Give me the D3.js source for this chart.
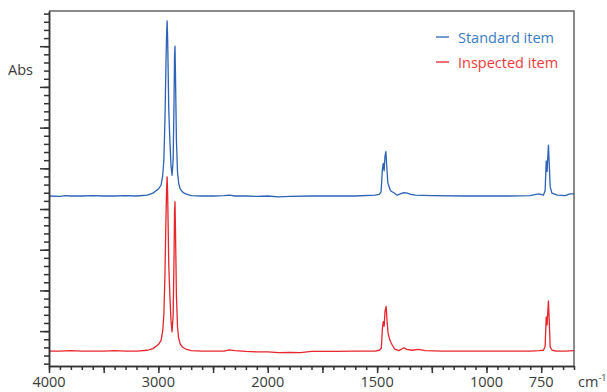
<!DOCTYPE html>
<html>
<head>
<meta charset="utf-8">
<script src="https://cdn.jsdelivr.net/npm/d3@7"></script>
<style>
  html, body { margin: 0; padding: 0; background: #fff; }
  svg { display: block; font-family: 'Open Sans', 'Noto Sans', sans-serif; }
</style>
</head>
<body>
<svg id="chart" width="607" height="392"></svg>
<script>
// wavenumber (cm-1), absorbance
const standardItem = [
  [4000, 0.432], [3900, 0.431], [3850, 0.433], [3800, 0.432], [3700, 0.432], [3600, 0.433], [3500, 0.432],
  [3400, 0.432], [3300, 0.433], [3200, 0.432], [3100, 0.434], [3050, 0.439], [3000, 0.449], [2975, 0.459],
  [2960, 0.483], [2950, 0.520], [2940, 0.618], [2930, 0.766], [2925, 0.827], [2920, 0.862], [2915, 0.815],
  [2905, 0.643], [2895, 0.569], [2885, 0.508], [2875, 0.483], [2865, 0.520], [2858, 0.643], [2852, 0.778],
  [2848, 0.800], [2843, 0.717], [2835, 0.569], [2825, 0.491], [2815, 0.464], [2800, 0.449], [2780, 0.442],
  [2750, 0.437], [2700, 0.433], [2600, 0.432], [2500, 0.432], [2400, 0.433], [2350, 0.434], [2300, 0.432],
  [2200, 0.432], [2100, 0.431], [2000, 0.432], [1950, 0.430], [1900, 0.431], [1800, 0.432], [1700, 0.432],
  [1600, 0.432], [1510, 0.434], [1490, 0.436], [1482, 0.442], [1476, 0.496], [1472, 0.512], [1468, 0.494],
  [1464, 0.530], [1460, 0.541], [1456, 0.505], [1451, 0.464], [1439, 0.445], [1424, 0.440], [1408, 0.434],
  [1393, 0.437], [1378, 0.440], [1362, 0.439], [1347, 0.436], [1324, 0.434], [1250, 0.433], [1100, 0.432],
  [1000, 0.432], [900, 0.432], [800, 0.433], [774, 0.436], [760, 0.437], [740, 0.434], [732, 0.445],
  [727, 0.518], [723, 0.492], [717, 0.557], [713, 0.510], [709, 0.455], [701, 0.439], [676, 0.434],
  [640, 0.433], [619, 0.437], [604, 0.437], [600, 0.436]
];

const inspectedItem = [
  [4000, 0.051], [3900, 0.051], [3800, 0.052], [3700, 0.051], [3600, 0.051], [3500, 0.051], [3400, 0.052],
  [3300, 0.051], [3200, 0.051], [3100, 0.053], [3050, 0.057], [3000, 0.067], [2975, 0.077], [2960, 0.101],
  [2950, 0.139], [2940, 0.237], [2930, 0.385], [2925, 0.446], [2920, 0.479], [2915, 0.434], [2905, 0.262],
  [2895, 0.188], [2885, 0.127], [2875, 0.098], [2865, 0.139], [2858, 0.262], [2852, 0.397], [2848, 0.418],
  [2843, 0.336], [2835, 0.188], [2825, 0.110], [2815, 0.083], [2800, 0.068], [2780, 0.061], [2750, 0.056],
  [2700, 0.052], [2600, 0.051], [2500, 0.051], [2400, 0.051], [2350, 0.054], [2300, 0.052], [2200, 0.050],
  [2100, 0.049], [2000, 0.049], [1950, 0.047], [1900, 0.048], [1850, 0.047], [1800, 0.050], [1700, 0.050],
  [1600, 0.051], [1510, 0.051], [1490, 0.053], [1481, 0.058], [1476, 0.105], [1472, 0.123], [1468, 0.112],
  [1464, 0.148], [1459, 0.161], [1455, 0.128], [1450, 0.095], [1442, 0.078], [1431, 0.066], [1420, 0.056],
  [1400, 0.052], [1378, 0.059], [1365, 0.055], [1340, 0.053], [1310, 0.055], [1280, 0.052], [1200, 0.051],
  [1000, 0.051], [900, 0.051], [800, 0.051], [760, 0.052], [740, 0.053], [732, 0.062], [727, 0.135],
  [723, 0.115], [717, 0.174], [713, 0.125], [709, 0.061], [700, 0.053], [680, 0.051], [640, 0.051],
  [600, 0.052]
];

const series = [
  { name: 'Standard item', data: standardItem, color: '#2c63b6', text: '#3a7cc6' },
  { name: 'Inspected item', data: inspectedItem, color: '#e8252b', text: '#ef3a3a' }
];

// x axis: 4000-2000 compressed, 2000-600 expanded 2x
const xDomain = [4000, 2000, 600];
const xMinorTicks = d3.range(4000, 2000, -100).concat(d3.range(2000, 599, -50));
const xMajorTicks = [4000, 3500, 3000, 2500, 2000, 1750, 1500, 1250, 1000, 750];
const xLabels = [4000, 3000, 2000, 1500, 1000, 750];
const yDomain = [0.0143, 0.8865];

const svg = d3.select('#chart');
const plot = { left: 49, right: 574, top: 11, bottom: 366 };

const k = (plot.right - plot.left) / ((xDomain[0] - xDomain[1]) + 2 * (xDomain[1] - xDomain[2]));
const x = d3.scaleLinear().domain(xDomain).range([plot.left, plot.left + k * (xDomain[0] - xDomain[1]), plot.right]);
const y = d3.scaleLinear().domain(yDomain).range([plot.bottom, plot.top]);

const yMinor = d3.range(0.02, yDomain[1], 0.02).filter((v) => v > yDomain[0]);
const yMajor = d3.range(0.1, yDomain[1], 0.1);

// frame top / right
svg.append('path')
  .attr('d', `M${plot.left},${plot.top}H${plot.right}V${plot.bottom}`)
  .attr('fill', 'none').attr('stroke', '#666').attr('stroke-width', 1.5);

const line = d3.line().x((d) => x(d[0])).y((d) => y(d[1]));
svg.append('g').selectAll('path').data(series).join('path')
  .attr('d', (s) => line(s.data))
  .attr('fill', 'none')
  .attr('stroke', (s) => s.color)
  .attr('stroke-width', 1.3)
  .attr('stroke-linejoin', 'round');

function styleAxis(g) {
  g.selectAll('path, line').attr('stroke', '#333').attr('stroke-width', 1.5);
  g.selectAll('text').remove();
}

svg.append('g').attr('transform', `translate(0,${plot.bottom})`)
  .call(d3.axisBottom(x).tickValues(xMinorTicks).tickSize(4).tickSizeOuter(0).tickFormat(''))
  .call(styleAxis);
svg.append('g').attr('transform', `translate(0,${plot.bottom})`)
  .call(d3.axisBottom(x).tickValues(xMajorTicks).tickSize(7).tickSizeOuter(0).tickFormat(''))
  .call(styleAxis);
svg.append('g').attr('transform', `translate(${plot.left},0)`)
  .call(d3.axisLeft(y).tickValues(yMinor).tickSize(5).tickSizeOuter(0).tickFormat(''))
  .call(styleAxis);
svg.append('g').attr('transform', `translate(${plot.left},0)`)
  .call(d3.axisLeft(y).tickValues(yMajor).tickSize(9).tickSizeOuter(0).tickFormat(''))
  .call(styleAxis);

svg.append('g').selectAll('text').data(xLabels).join('text')
  .attr('x', (d) => x(d)).attr('y', 387)
  .attr('text-anchor', 'middle').attr('font-size', 14.5).attr('fill', '#3a3a3a')
  .text((d) => d);

const unit = svg.append('text').attr('x', 578).attr('y', 387).attr('font-size', 14.5).attr('fill', '#3a3a3a');
unit.append('tspan').text('cm');
unit.append('tspan').attr('dy', -6).attr('font-size', 9).text('-1');

svg.append('text').attr('x', 8).attr('y', 75).attr('font-size', 14.5).attr('fill', '#3a3a3a').text('Abs');

const legend = svg.append('g').selectAll('g').data(series).join('g')
  .attr('transform', (_, i) => `translate(436,${37 + i * 25})`);
legend.append('line').attr('x1', 0).attr('x2', 13).attr('stroke', (s) => s.color).attr('stroke-width', 1.3);
legend.append('text').attr('x', 22).attr('y', 5.5).attr('font-size', 14.5).attr('fill', (s) => s.text).text((s) => s.name);
</script>
</body>
</html>
